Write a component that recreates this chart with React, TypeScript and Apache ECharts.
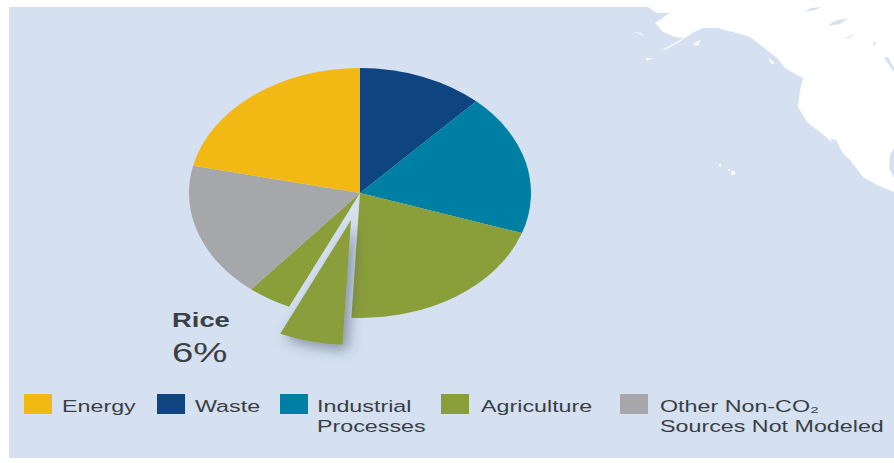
import React, { useEffect, useRef } from "react";
import * as echarts from "echarts";

// Share of non-CO2 emissions by source, clockwise from twelve o'clock (percent).
const sliceNames = ["Waste", "Industrial Processes", "Agriculture", "Rice", "Agriculture", "Other", "Energy"];
const sliceValues = [11.9, 18.3, 20.6, 6, 4.2, 17.5, 21.5];
const sliceColors = ["#0e4480", "#007fa5", "#8a9f3a", "#8a9f3a", "#8a9f3a", "#a6a7ab", "#f2b915"];

const riceShare = 6;

const legendNames = ["Energy", "Waste", "Industrial\nProcesses", "Agriculture", "Other Non-CO₂\nSources Not Modeled"];
const legendColors = ["#f2b915", "#0e4480", "#007fa5", "#8a9f3a", "#a6a7ab"];
const legendSwatchX = [24, 157, 280, 441, 620];
const legendTextX = [62, 195, 317, 481, 660];

// Pacific basemap outlines, in page pixels.
const OCEAN = "#d5e1f0";
const northAmerica = [
  [648, 7], [657, 13], [670, 13], [655, 23], [663, 32], [675, 37], [685, 38], [692, 33], [703, 28], [717, 28],
  [733, 32], [750, 37], [763, 47], [777, 58], [785, 68], [797, 75], [803, 78], [800, 90], [798, 107], [807, 122],
  [820, 132], [833, 143], [850, 160], [863, 177], [877, 185], [894, 192], [894, 7],
];
const inlandWaters = [
  [[805, 12], [811, 8], [822, 7], [815, 10]],
  [[827, 26], [835, 21], [848, 18], [840, 24]],
  [[844, 39], [852, 35], [855, 34], [849, 38]],
  [[872, 46], [875, 41], [876, 44]],
  [[884, 58], [888, 57], [894, 68], [894, 72]],
  [[830, 138], [836, 140], [849, 166], [846, 166]],
  [[894, 148], [890, 155], [889, 168], [894, 178]],
];
const aleutians = [
  [[692, 33], [680, 42], [665, 50], [662, 50], [678, 41]],
  [[645, 58], [653, 58], [647, 61]],
  [[695, 42], [701, 40], [698, 46], [693, 45]],
  [[768, 58], [772, 60], [775, 64], [771, 64]],
  [[635, 32], [641, 33], [644, 36], [639, 34]],
];
const hawaii = [[733, 173, 2], [729, 170, 1], [720, 165, 1]];

const CX = 360;
const CY = 193;
const RX = 171;
const RY = 125;
const RICE_OFFSET = 38;
const INK = "#3a3f45";
const STRETCH = 1.37;

const cumulative = sliceValues.reduce<number[]>((acc, v) => {
  acc.push((acc[acc.length - 1] ?? 0) + v);
  return acc;
}, []);
const total = cumulative[cumulative.length - 1];

function renderSlice(params: any, api: any) {
  const i = params.dataIndex;
  const toRad = (share: number) => (share / total) * Math.PI * 2 - Math.PI / 2;
  const start = toRad(i === 0 ? 0 : cumulative[i - 1]);
  const end = toRad(cumulative[i]);
  const isRice = sliceNames[i] === "Rice";
  const mid = (start + end) / 2;
  const offset = isRice ? RICE_OFFSET : 0;
  return {
    type: "sector",
    x: CX + Math.cos(mid) * offset,
    y: CY + (Math.sin(mid) * offset * RY) / RX,
    scaleY: RY / RX,
    shape: { cx: 0, cy: 0, r0: 0, r: RX, startAngle: start, endAngle: end, clockwise: true },
    style: {
      fill: api.visual("color"),
      ...(isRice
        ? { shadowBlur: 14, shadowColor: "rgba(60,75,100,0.55)", shadowOffsetX: 5, shadowOffsetY: 5 }
        : {}),
    },
  };
}

function legendElements() {
  const out: any[] = [];
  legendNames.forEach((name, i) => {
    out.push({
      type: "rect",
      shape: { x: legendSwatchX[i], y: 394, width: 28, height: 20 },
      style: { fill: legendColors[i] },
    });
    out.push({
      type: "text",
      x: legendTextX[i],
      y: 396,
      scaleX: STRETCH,
      style: {
        text: name,
        fill: INK,
        font: '17px "Liberation Sans", Arial, sans-serif',
        lineHeight: 20,
        textVerticalAlign: "top",
      },
    });
  });
  return out;
}

function basemapElements() {
  const out: any[] = [
    { type: "rect", shape: { x: 9, y: 7, width: 885, height: 451 }, style: { fill: OCEAN } },
    { type: "polygon", shape: { points: northAmerica }, style: { fill: "#ffffff" } },
  ];
  inlandWaters.forEach((points) => out.push({ type: "polygon", shape: { points }, style: { fill: OCEAN } }));
  aleutians.forEach((points) => out.push({ type: "polygon", shape: { points }, style: { fill: "#f3f7fb" } }));
  hawaii.forEach(([cx, cy, r]) =>
    out.push({ type: "circle", shape: { cx, cy, r }, style: { fill: "#ffffff" } }),
  );
  return out;
}

export default function App() {
  const ref = useRef<HTMLDivElement>(null);
  useEffect(() => {
    document.body.style.margin = "0";
    const chart = echarts.init(ref.current!, null, { renderer: "svg" });
    chart.setOption({
      animation: false,
      backgroundColor: "#ffffff",
      graphic: [
        { type: "group", z: -10, silent: true, children: basemapElements() },
        {
          type: "group",
          z: 10,
          silent: true,
          children: [
            ...legendElements(),
            {
              type: "text",
              x: 172,
              y: 320,
              scaleX: STRETCH,
              style: {
                text: "Rice",
                fill: INK,
                font: 'bold 20px "Liberation Sans", Arial, sans-serif',
                textVerticalAlign: "middle",
              },
            },
            {
              type: "text",
              x: 172,
              y: 352,
              scaleX: STRETCH,
              style: {
                text: `${riceShare}%`,
                fill: INK,
                font: '28px "Liberation Sans", Arial, sans-serif',
                textVerticalAlign: "middle",
              },
            },
          ],
        },
      ],
      series: [
        {
          type: "custom",
          coordinateSystem: "none",
          renderItem: renderSlice,
          data: sliceValues.map((value, i) => ({
            name: sliceNames[i],
            value,
            itemStyle: { color: sliceColors[i] },
          })),
        },
      ],
    });
    return () => chart.dispose();
  }, []);
  return <div ref={ref} style={{ width: 894, height: 463 }} />;
}
